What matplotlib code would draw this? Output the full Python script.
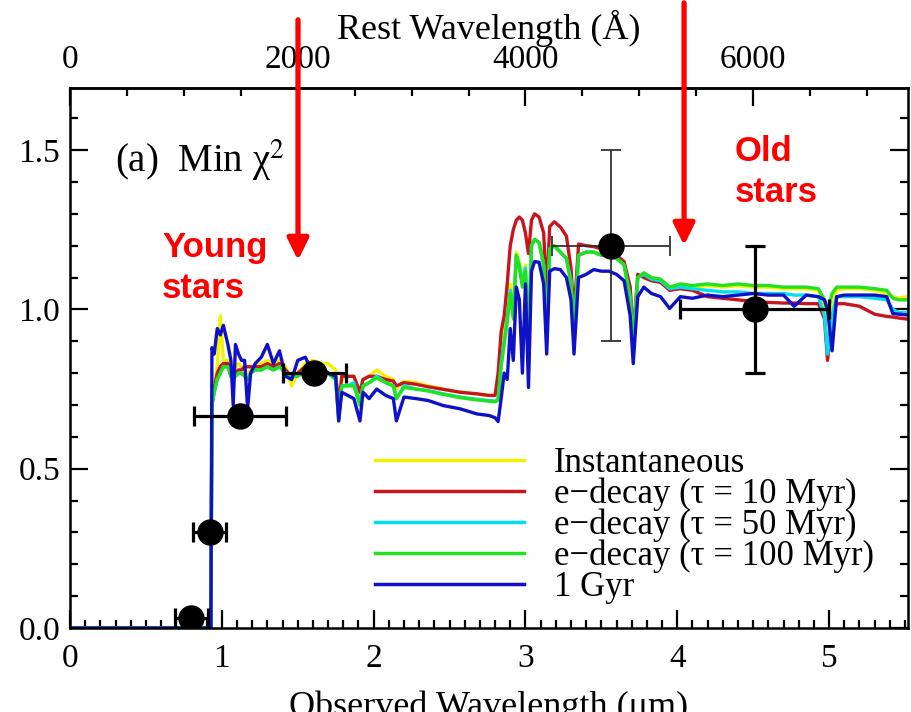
import matplotlib
matplotlib.use("Agg")
import matplotlib.pyplot as plt
from matplotlib.ticker import MultipleLocator, FixedLocator

plt.rcParams['font.family'] = ['Liberation Serif', 'DejaVu Serif']
plt.rcParams['mathtext.fontset'] = 'stix'

# ---------------- data ----------------
wl = [0.00, 0.928, 0.935, 0.95, 0.97, 0.99, 1.01, 1.04, 1.06, 1.075,
      1.09, 1.11, 1.13, 1.15, 1.17, 1.19, 1.22, 1.26, 1.30, 1.34,
      1.38, 1.42, 1.46, 1.50, 1.55, 1.60, 1.65, 1.70, 1.75, 1.77,
      1.79, 1.83, 1.87, 1.91, 1.93, 1.97, 2.02, 2.08, 2.13, 2.15,
      2.20, 2.28, 2.36, 2.46, 2.57, 2.68, 2.76, 2.80, 2.82, 2.84,
      2.86, 2.88, 2.90, 2.92, 2.94, 2.96, 2.98, 3.00, 3.02, 3.04,
      3.06, 3.09, 3.12, 3.14, 3.16, 3.19, 3.23, 3.27, 3.30, 3.32,
      3.35, 3.40, 3.45, 3.50, 3.55, 3.60, 3.65, 3.69, 3.71, 3.74,
      3.78, 3.83, 3.89, 3.95, 4.02, 4.10, 4.20, 4.30, 4.40, 4.50,
      4.60, 4.70, 4.77, 4.85, 4.93, 4.97, 4.99, 5.02, 5.05, 5.10,
      5.20, 5.30, 5.38, 5.42, 5.46, 5.51]

flux_inst = [0, 0, 0.70, 0.76, 0.82, 0.98, 0.84, 0.84, 0.82, 0.80,
             0.82, 0.83, 0.82, 0.81, 0.80, 0.81, 0.82, 0.83, 0.84, 0.83,
             0.84, 0.82, 0.76, 0.80, 0.83, 0.84, 0.83, 0.83, 0.81, 0.68,
             0.78, 0.79, 0.79, 0.72, 0.78, 0.79, 0.81, 0.79, 0.78, 0.75,
             0.775, 0.77, 0.76, 0.75, 0.74, 0.735, 0.73, 0.73, 0.76, 0.86,
             0.93, 0.99, 1.08, 1.00, 1.18, 1.15, 1.10, 1.14, 0.92, 1.21,
             1.22, 1.21, 1.15, 0.93, 1.19, 1.20, 1.18, 1.16, 1.10, 0.93,
             1.17, 1.18, 1.18, 1.17, 1.17, 1.16, 1.14, 1.05, 0.90, 1.10,
             1.11, 1.095, 1.09, 1.065, 1.075, 1.07, 1.075, 1.07, 1.075, 1.07,
             1.07, 1.065, 1.065, 1.065, 1.06, 1.00, 0.88, 1.00, 1.06, 1.065,
             1.065, 1.06, 1.05, 1.04, 1.035, 1.04]

flux_tau10 = [0, 0, 0.70, 0.75, 0.80, 0.82, 0.83, 0.83, 0.80, 0.79,
              0.80, 0.81, 0.81, 0.82, 0.82, 0.82, 0.82, 0.82, 0.83, 0.82,
              0.83, 0.81, 0.79, 0.80, 0.82, 0.82, 0.81, 0.80, 0.79, 0.70,
              0.79, 0.79, 0.79, 0.74, 0.78, 0.79, 0.79, 0.78, 0.775, 0.76,
              0.77, 0.765, 0.757, 0.749, 0.74, 0.735, 0.73, 0.73, 0.80, 0.93,
              0.98, 1.08, 1.20, 1.25, 1.28, 1.29, 1.28, 1.24, 1.175, 1.28,
              1.30, 1.29, 1.24, 1.05, 1.26, 1.275, 1.259, 1.23, 1.13, 0.98,
              1.205, 1.20, 1.197, 1.19, 1.18, 1.17, 1.15, 1.07, 0.92, 1.11,
              1.10, 1.09, 1.085, 1.06, 1.065, 1.06, 1.04, 1.035, 1.03, 1.025,
              1.022, 1.02, 1.02, 1.018, 1.018, 0.97, 0.84, 0.98, 1.018, 1.018,
              1.01, 0.985, 0.978, 0.976, 0.973, 0.97]

flux_tau50 = [0, 0, 0.70, 0.74, 0.78, 0.80, 0.82, 0.82, 0.79, 0.78,
              0.79, 0.80, 0.80, 0.79, 0.78, 0.80, 0.81, 0.81, 0.82, 0.81,
              0.82, 0.80, 0.79, 0.79, 0.81, 0.81, 0.80, 0.80, 0.78, 0.66,
              0.76, 0.76, 0.77, 0.70, 0.76, 0.77, 0.79, 0.77, 0.76, 0.72,
              0.76, 0.75, 0.745, 0.735, 0.725, 0.718, 0.714, 0.712, 0.72, 0.83,
              0.90, 0.97, 1.06, 0.98, 1.17, 1.14, 1.08, 1.13, 0.90, 1.20,
              1.22, 1.21, 1.14, 0.92, 1.19, 1.20, 1.18, 1.16, 1.09, 0.92,
              1.17, 1.18, 1.18, 1.17, 1.17, 1.16, 1.14, 1.04, 0.89, 1.10,
              1.11, 1.095, 1.09, 1.065, 1.07, 1.065, 1.06, 1.055, 1.055, 1.05,
              1.05, 1.05, 1.045, 1.045, 1.04, 0.98, 0.86, 0.98, 1.04, 1.04,
              1.04, 1.035, 1.03, 1.00, 0.99, 0.99]

flux_tau100 = [0, 0, 0.70, 0.74, 0.78, 0.80, 0.82, 0.82, 0.79, 0.78,
               0.79, 0.80, 0.80, 0.79, 0.78, 0.80, 0.81, 0.81, 0.82, 0.81,
               0.82, 0.80, 0.79, 0.79, 0.81, 0.81, 0.80, 0.80, 0.78, 0.65,
               0.76, 0.76, 0.76, 0.70, 0.76, 0.77, 0.785, 0.77, 0.76, 0.72,
               0.755, 0.75, 0.744, 0.733, 0.723, 0.716, 0.712, 0.71, 0.715, 0.82,
               0.89, 0.96, 1.05, 0.97, 1.17, 1.13, 1.07, 1.12, 0.89, 1.20,
               1.22, 1.21, 1.14, 0.91, 1.19, 1.20, 1.18, 1.16, 1.08, 0.92,
               1.17, 1.18, 1.18, 1.17, 1.17, 1.16, 1.14, 1.03, 0.89, 1.10,
               1.115, 1.10, 1.095, 1.07, 1.08, 1.075, 1.08, 1.075, 1.08, 1.075,
               1.075, 1.07, 1.07, 1.07, 1.065, 1.03, 0.99, 1.05, 1.07, 1.07,
               1.07, 1.065, 1.06, 1.035, 1.03, 1.03]

flux_1gyr = [0, 0, 0.88, 0.86, 0.94, 0.92, 0.95, 0.89, 0.84, 0.70,
             0.89, 0.86, 0.84, 0.84, 0.69, 0.80, 0.83, 0.85, 0.89, 0.83,
             0.87, 0.79, 0.78, 0.84, 0.85, 0.80, 0.82, 0.80, 0.79, 0.65,
             0.74, 0.73, 0.72, 0.65, 0.74, 0.72, 0.75, 0.73, 0.72, 0.65,
             0.725, 0.72, 0.714, 0.698, 0.688, 0.672, 0.667, 0.66, 0.648, 0.72,
             0.80, 0.78, 0.94, 0.84, 1.07, 1.03, 0.80, 1.08, 0.755, 1.12,
             1.15, 1.148, 1.08, 0.86, 1.12, 1.128, 1.125, 1.10, 1.03, 0.86,
             1.10, 1.11, 1.125, 1.12, 1.12, 1.11, 1.09, 0.98, 0.83, 1.04,
             1.07, 1.05, 1.04, 1.003, 1.04, 1.035, 1.045, 1.04, 1.045, 1.05,
             1.045, 1.045, 1.01, 1.045, 1.04, 1.03, 1.00, 0.87, 1.04, 1.045,
             1.045, 1.045, 1.04, 0.987, 0.985, 0.983]

labels = ["Instantaneous", "e\u2212decay (\u03c4 = 10 Myr)", "e\u2212decay (\u03c4 = 50 Myr)",
          "e\u2212decay (\u03c4 = 100 Myr)", "1 Gyr"]
colors = ["#f2f200", "#c8141e", "#00e0f0", "#22e022", "#1010c8"]

# photometry points
phot_x = [0.80, 0.92, 1.12, 1.61, 3.565, 4.51]
phot_y = [0.03, 0.30, 0.665, 0.80, 1.20, 1.00]
phot_xerr = [0.11, 0.108, 0.305, 0.21, 0.39, 0.49]
phot_yerr = [0.0, 0.0, 0.0, 0.0, 0.30, 0.20]

rest_ticks = [0, 2000, 4000, 6000]
one_plus_z = 7.5

# ---------------- figure ----------------
fig = plt.figure(figsize=(9.11, 7.12), dpi=100)
ax = fig.add_axes([70/911, 84/712, 838/911, 540/712])

series = [flux_inst, flux_tau10, flux_tau50, flux_tau100, flux_1gyr]
for fl, c, lab in zip(series, colors, labels):
    ax.plot(wl, fl, color=c, lw=2.4, label=lab, zorder=2)

for i in range(len(phot_x)):
    thin = (i == 4)
    ax.errorbar(phot_x[i], phot_y[i], xerr=phot_xerr[i],
                yerr=phot_yerr[i] if phot_yerr[i] > 0 else None,
                fmt='o', color='black', ms=18,
                ecolor='#333333' if thin else 'black',
                elinewidth=1.3 if thin else 2.3, capsize=7,
                capthick=1.3 if thin else 2.3, zorder=5)

ax.set_xlim(0, 5.52)
ax.set_ylim(0, 1.695)

ax.xaxis.set_major_locator(MultipleLocator(1))
ax.xaxis.set_minor_locator(MultipleLocator(0.1))
ax.yaxis.set_major_locator(MultipleLocator(0.5))
ax.yaxis.set_minor_locator(MultipleLocator(0.1))
ax.yaxis.set_major_formatter(plt.FuncFormatter(lambda v, p: f"{v:.1f}"))

ax.tick_params(which='both', direction='in', top=False, right=True, width=1.6)
ax.tick_params(which='major', length=13, labelsize=24, pad=11)
ax.tick_params(which='minor', length=6)
ax.tick_params(axis='y', which='major', pad=7)
for s in ax.spines.values():
    s.set_linewidth(1.8)

ax.set_xlabel("Observed Wavelength (\u03bcm)", fontsize=26, labelpad=12)

sec = ax.secondary_xaxis('top', functions=(lambda x: x * 1e4 / one_plus_z,
                                           lambda r: r * one_plus_z / 1e4))
sec.xaxis.set_major_locator(FixedLocator(rest_ticks))
sec.xaxis.set_minor_locator(MultipleLocator(500))
sec.tick_params(which='both', direction='in', width=1.6)
sec.tick_params(which='major', length=13, labelsize=24, pad=9)
sec.tick_params(which='minor', length=6)
sec.spines['top'].set_linewidth(1.8)
sec.set_xlabel("Rest Wavelength (\u00c5)", fontsize=26, labelpad=4)

ax.text(0.054, 0.844, "(a)  Min \u03c7$^2$", transform=ax.transAxes,
        fontsize=28, va='baseline', ha='left')

leg = ax.legend(loc='upper left', bbox_to_anchor=(0.364, 0.335), frameon=False,
                fontsize=25, handlelength=4.3, handletextpad=0.85,
                labelspacing=-0.07, borderpad=0, borderaxespad=0)
for h in leg.get_lines():
    h.set_linewidth(2.5)

# annotations
ax.text(0.606, 1.129, "Young\nstars", color='red', fontsize=25, fontweight='bold',
        family='Liberation Sans', ha='left', va='center', linespacing=1.3)
ax.text(4.38, 1.431, "Old\nstars", color='red', fontsize=25, fontweight='bold',
        family='Liberation Sans', ha='left', va='center', linespacing=1.3)
arrow_kw = dict(arrowstyle='-|>,head_length=0.65,head_width=0.32', color='red',
                lw=3.8, shrinkA=0, shrinkB=0, mutation_scale=20)
ax.annotate('', xy=(1.502, 1.154), xytext=(1.502, 1.909), arrowprops=arrow_kw,
            annotation_clip=False)
ax.annotate('', xy=(4.045, 1.201), xytext=(4.045, 1.962), arrowprops=arrow_kw,
            annotation_clip=False)

fig.savefig("out.png", dpi=100)
